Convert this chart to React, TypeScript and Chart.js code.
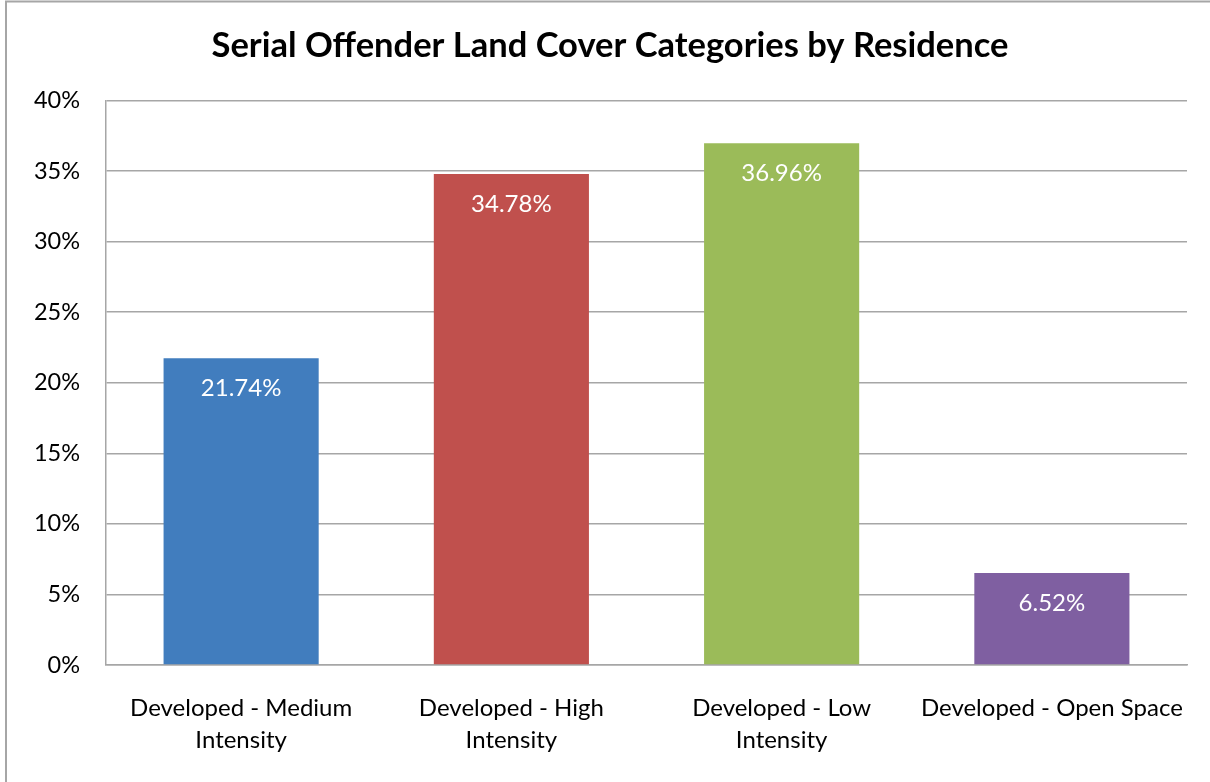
import React, { useEffect, useRef } from "react";
import { Chart, registerables } from "chart.js";

Chart.register(...registerables);

const categories: string[][] = [
  ["Developed - Medium", "Intensity"],
  ["Developed - High", "Intensity"],
  ["Developed - Low", "Intensity"],
  ["Developed - Open Space"],
];
const values: number[] = [21.74, 34.78, 36.96, 6.52];
const valueLabels: string[] = ["21.74%", "34.78%", "36.96%", "6.52%"];
const barColors: string[] = ["#417DBE", "#C0504D", "#9BBB59", "#7F5FA1"];
const yTicks: number[] = [0, 5, 10, 15, 20, 25, 30, 35, 40];
const titleText = "Serial Offender Land Cover Categories by Residence";

const FONT = "Lato, 'Open Sans', sans-serif";
const GRID = "#A6A6A6";

const labelPlugin = {
  id: "valueLabels",
  afterDatasetsDraw(chart: any) {
    const { ctx } = chart;
    const meta = chart.getDatasetMeta(0);
    ctx.save();
    ctx.fillStyle = "#FFFFFF";
    ctx.font = `24px ${FONT}`;
    ctx.textAlign = "center";
    ctx.textBaseline = "middle";
    meta.data.forEach((bar: any, i: number) => {
      ctx.fillText(valueLabels[i], bar.x, bar.y + 30);
    });
    ctx.restore();
  },
};

const borderPlugin = {
  id: "outerBorder",
  beforeDraw(chart: any) {
    const { ctx, width, height } = chart;
    ctx.save();
    ctx.fillStyle = "#FFFFFF";
    ctx.fillRect(0, 0, width, height);
    ctx.strokeStyle = GRID;
    ctx.lineWidth = 2;
    ctx.beginPath();
    ctx.moveTo(6, height);
    ctx.lineTo(6, 1.5);
    ctx.lineTo(width, 1.5);
    ctx.stroke();
    ctx.restore();
  },
};

export default function App() {
  const ref = useRef<HTMLCanvasElement>(null);
  useEffect(() => {
    document.body.style.margin = "0";
    const chart = new Chart(ref.current as HTMLCanvasElement, {
      type: "bar",
      data: {
        labels: categories,
        datasets: [
          {
            data: values,
            backgroundColor: barColors,
            borderWidth: 0,
            barPercentage: 0.574,
            categoryPercentage: 1,
          },
        ],
      },
      options: {
        animation: false,
        responsive: false,
        maintainAspectRatio: false,
        layout: { padding: { left: 33, right: 23, top: 0, bottom: 0 } },
        plugins: {
          legend: { display: false },
          tooltip: { enabled: false },
          title: {
            display: true,
            text: titleText,
            color: "#000000",
            font: { family: FONT, size: 34.5, weight: "bold", lineHeight: 1.2 },
            padding: { top: 25, bottom: 34 },
          },
        },
        scales: {
          x: {
            grid: { display: false, drawTicks: false },
            border: { display: true, color: GRID, width: 1.5 },
            ticks: {
              color: "#000000",
              font: { family: FONT, size: 24, lineHeight: 1.333 },
              padding: 27,
              maxRotation: 0,
              autoSkip: false,
            },
            afterFit(scale: any) {
              scale.height = 117;
              scale.paddingLeft = 0;
              scale.paddingRight = 0;
            },
          },
          y: {
            min: 0,
            max: 40,
            grid: { color: GRID, lineWidth: 1.5, drawTicks: false },
            border: { display: true, color: GRID, width: 1.5 },
            ticks: {
              stepSize: 5,
              color: "#000000",
              font: { family: FONT, size: 23.5 },
              padding: 26,
              callback: (v: any) => (yTicks.includes(Number(v)) ? `${v}%` : ""),
            },
            afterFit(scale: any) {
              scale.width = 73;
              scale.paddingTop = 0;
              scale.paddingBottom = 0;
            },
          },
        },
      },
      plugins: [borderPlugin, labelPlugin],
    });
    return () => chart.destroy();
  }, []);
  return (
    <div style={{ position: "fixed", left: 0, top: 0, width: 1210, height: 782 }}>
      <canvas ref={ref} width={1210} height={782} style={{ width: 1210, height: 782 }} />
    </div>
  );
}
